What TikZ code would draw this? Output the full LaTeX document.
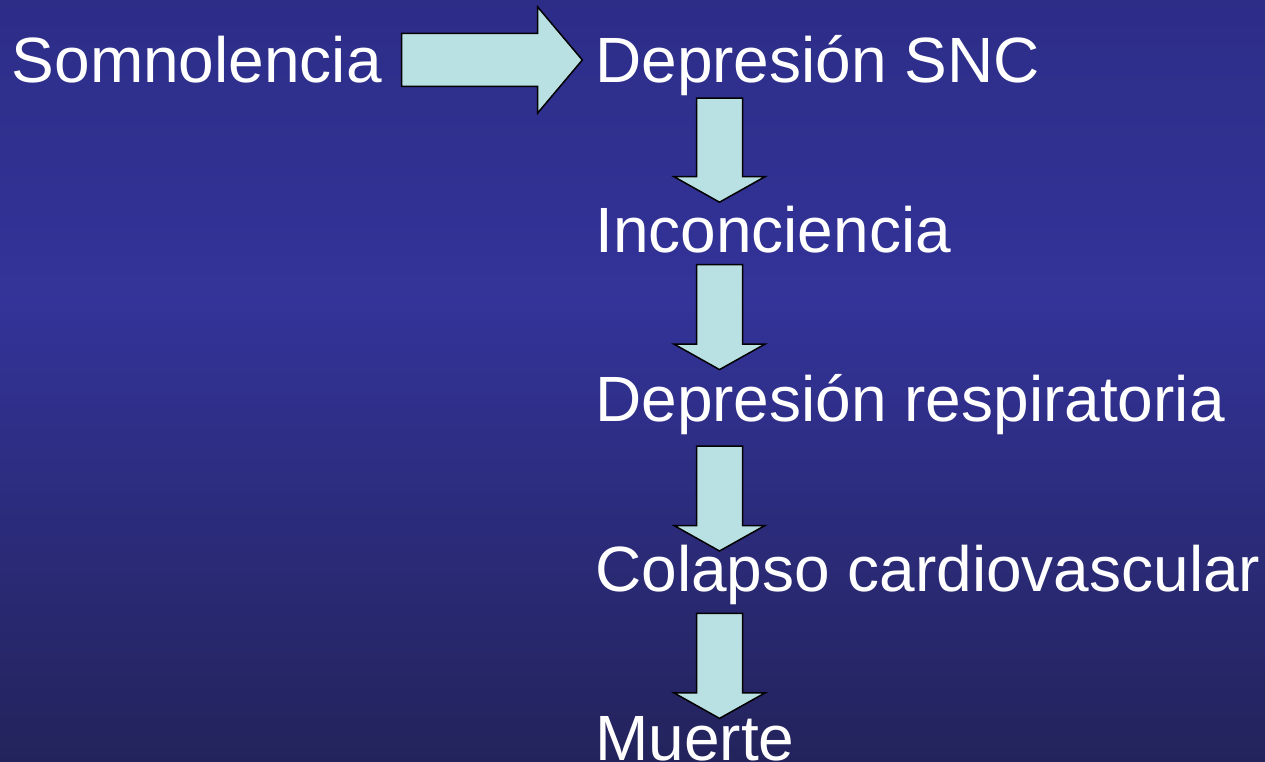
\documentclass[tikz,border=0pt]{standalone}
\usepackage{fontspec}
\setmainfont{Liberation Sans}
\usetikzlibrary{positioning,calc}

\definecolor{bgtop}{HTML}{2D2D88}
\definecolor{bgmid}{HTML}{333399}
\definecolor{bgbot}{HTML}{23235C}
\definecolor{arrowfill}{HTML}{B9E0E2}

\begin{document}
\begin{tikzpicture}[x=1pt, y=1pt,
			stage/.style={text=white, inner sep=0pt, font=\fontsize{64}{72}\selectfont, text height=46pt, text depth=13pt},
			downblock/.style={draw=black, fill=arrowfill, line width=1.5pt,
				to path={let \p1=(\tikztostart), \p2=(\tikztotarget) in
					({\x1-23pt},\y1) -- ({\x1+23pt},\y1) -- ({\x1+23pt},{\y2+25.5pt}) -- ({\x1+45.5pt},{\y2+25.5pt})
					-- (\x1,\y2) -- ({\x1-45.5pt},{\y2+25.5pt}) -- ({\x1-23pt},{\y2+25.5pt}) -- cycle}},
			rightblock/.style={draw=black, fill=arrowfill, line width=1.5pt,
				to path={let \p1=(\tikztostart), \p2=(\tikztotarget) in
					(\x1,{\y1+26.5pt}) -- ({\x2-44.6pt},{\y1+26.5pt}) -- ({\x2-44.6pt},{\y1+53pt}) -- (\x2,\y1)
					-- ({\x2-44.6pt},{\y1-53pt}) -- ({\x2-44.6pt},{\y1-26.5pt}) -- (\x1,{\y1-26.5pt}) -- cycle}}
		]
		\useasboundingbox (0,0) rectangle (1265,761);
		\shade[top color=bgtop, bottom color=bgmid] (0,460) rectangle (1265,761);
		\shade[top color=bgmid, bottom color=bgbot] (0,0) rectangle (1265,461);

		\node[stage, anchor=base west] (snc) at (595,678) {Depresión SNC};
		\node[stage] (somn) [left=213pt of snc] {Somnolencia};
		\node[stage] (inc) [below=110pt of snc.south west, anchor=north west] {Inconciencia};
		\node[stage] (resp) [below=110pt of inc.south west, anchor=north west] {Depresión respiratoria};
		\node[stage] (col) [below=110pt of resp.south west, anchor=north west] {Colapso cardiovascular};
		\node[stage] (muerte) [below=110pt of col.south west, anchor=north west] {Muerte};

		\draw[rightblock] ([xshift=19.7pt, yshift=6.5pt]somn.east) to ([xshift=-12.7pt, yshift=6.5pt]snc.west);
		\draw[downblock] ([xshift=124.5pt, yshift=-2pt]snc.south west) to ([xshift=124.5pt, yshift=4pt]inc.north west);
		\draw[downblock] ([xshift=124.5pt, yshift=1pt]inc.south west) to ([xshift=124.5pt, yshift=6pt]resp.north west);
		\draw[downblock] ([xshift=124.5pt, yshift=-11pt]resp.south west) to ([xshift=124.5pt, yshift=-6pt]col.north west);
		\draw[downblock] ([xshift=124.5pt, yshift=-9pt]col.south west) to ([xshift=124.5pt, yshift=-4pt]muerte.north west);
\end{tikzpicture}
\end{document}
